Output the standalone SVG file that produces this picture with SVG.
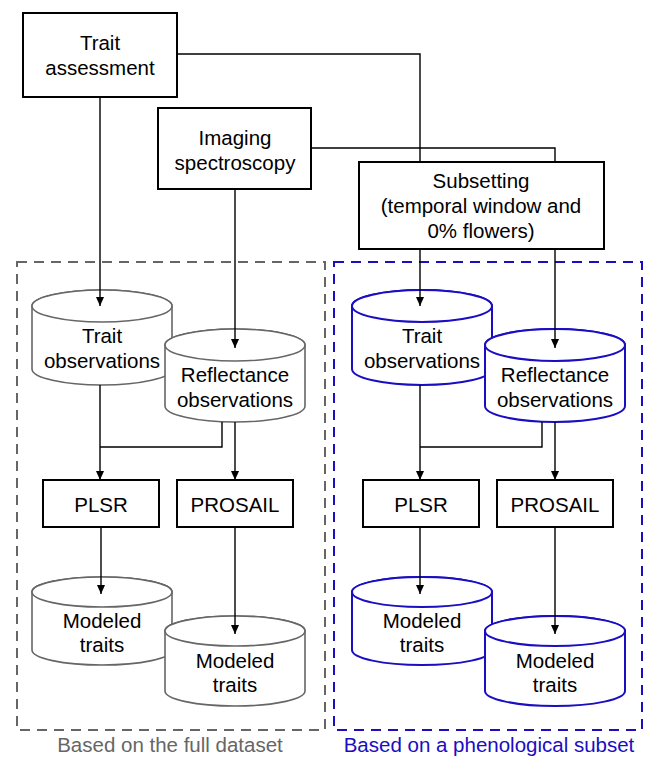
<svg xmlns="http://www.w3.org/2000/svg" width="651" height="757" viewBox="0 0 651 757">
<defs>
<marker id="arr" markerUnits="userSpaceOnUse" markerWidth="9" markerHeight="8" refX="9" refY="4" orient="auto">
<path d="M0,0 L9,4 L0,8 z" fill="#000"/>
</marker>
</defs>
<style>
text{font-family:"Liberation Sans",Arial,sans-serif;font-size:20.5px;text-anchor:middle;fill:#000}
.box{fill:#fff;stroke:#000;stroke-width:2}
.cg{fill:#fff;stroke:#666;stroke-width:1.6}
.cb{fill:#fff;stroke:#1a0dc2;stroke-width:2}
.con{fill:none;stroke:#000;stroke-width:1.4}
.arr{marker-end:url(#arr)}
.frame{fill:none;stroke-width:2;stroke-dasharray:10,7}
</style>
<rect width="651" height="757" fill="#fff"/>

<g id="frame-full">
<rect class="frame" x="17" y="262" width="308" height="468" stroke="#666"/>
<text x="170" y="752" style="fill:#666">Based on the full dataset</text>
</g>
<g id="frame-subset">
<rect class="frame" x="334" y="262" width="308" height="468" stroke="#1a0dc2"/>
<text x="489" y="752" style="fill:#1a0dc2">Based on a phenological subset</text>
</g>

<g id="trait-assessment">
<rect class="box" x="23" y="13" width="154" height="84"/>
<text x="100" y="50">Trait</text>
<text x="100" y="75">assessment</text>
</g>
<g id="imaging-spectroscopy">
<rect class="box" x="158" y="108" width="153" height="81"/>
<text x="235" y="145">Imaging</text>
<text x="235" y="170">spectroscopy</text>
</g>
<g id="subsetting">
<rect class="box" x="359" y="162" width="245" height="87"/>
<text x="481" y="188">Subsetting</text>
<text x="481" y="213">(temporal window and</text>
<text x="481" y="238">0% flowers)</text>
</g>

<g id="trait-obs-full">
<path class="cg" d="M32,306 L32,369 A70,16 0 0 0 172,369 L172,306 A70,16 0 0 0 32,306 Z"/>
<ellipse class="cg" cx="102" cy="306" rx="70" ry="16"/>
<text x="102" y="343">Trait</text>
<text x="102" y="368">observations</text>
</g>
<g id="refl-obs-full">
<path class="cg" d="M165,345 L165,406 A70,16 0 0 0 305,406 L305,345 A70,16 0 0 0 165,345 Z"/>
<ellipse class="cg" cx="235" cy="345" rx="70" ry="16"/>
<text x="235" y="382">Reflectance</text>
<text x="235" y="407">observations</text>
</g>
<g id="plsr-full">
<rect class="box" x="43" y="480" width="116" height="47"/>
<text x="101" y="512">PLSR</text>
</g>
<g id="prosail-full">
<rect class="box" x="177" y="480" width="116" height="47"/>
<text x="235" y="512">PROSAIL</text>
</g>
<g id="modeled-plsr-full">
<path class="cg" d="M32,592 L32,650 A70,15 0 0 0 172,650 L172,592 A70,15 0 0 0 32,592 Z"/>
<ellipse class="cg" cx="102" cy="592" rx="70" ry="15"/>
<text x="102" y="628">Modeled</text>
<text x="102" y="652">traits</text>
</g>
<g id="modeled-prosail-full">
<path class="cg" d="M165,631 L165,691 A70,15 0 0 0 305,691 L305,631 A70,15 0 0 0 165,631 Z"/>
<ellipse class="cg" cx="235" cy="631" rx="70" ry="15"/>
<text x="235" y="668">Modeled</text>
<text x="235" y="692">traits</text>
</g>

<g id="trait-obs-subset">
<path class="cb" d="M352,306 L352,369 A70,16 0 0 0 492,369 L492,306 A70,16 0 0 0 352,306 Z"/>
<ellipse class="cb" cx="422" cy="306" rx="70" ry="16"/>
<text x="422" y="343">Trait</text>
<text x="422" y="368">observations</text>
</g>
<g id="refl-obs-subset">
<path class="cb" d="M485,345 L485,406 A70,16 0 0 0 625,406 L625,345 A70,16 0 0 0 485,345 Z"/>
<ellipse class="cb" cx="555" cy="345" rx="70" ry="16"/>
<text x="555" y="382">Reflectance</text>
<text x="555" y="407">observations</text>
</g>
<g id="plsr-subset">
<rect class="box" x="363" y="480" width="116" height="47"/>
<text x="421" y="512">PLSR</text>
</g>
<g id="prosail-subset">
<rect class="box" x="497" y="480" width="116" height="47"/>
<text x="555" y="512">PROSAIL</text>
</g>
<g id="modeled-plsr-subset">
<path class="cb" d="M352,592 L352,650 A70,15 0 0 0 492,650 L492,592 A70,15 0 0 0 352,592 Z"/>
<ellipse class="cb" cx="422" cy="592" rx="70" ry="15"/>
<text x="422" y="628">Modeled</text>
<text x="422" y="652">traits</text>
</g>
<g id="modeled-prosail-subset">
<path class="cb" d="M485,631 L485,691 A70,15 0 0 0 625,691 L625,631 A70,15 0 0 0 485,631 Z"/>
<ellipse class="cb" cx="555" cy="631" rx="70" ry="15"/>
<text x="555" y="668">Modeled</text>
<text x="555" y="692">traits</text>
</g>

<g id="connectors">
<path class="con" d="M177,54 H420 V162"/>
<path class="con" d="M311,148 H555 V162"/>
<path class="con arr" d="M100,97 V306"/>
<path class="con arr" d="M235,189 V348"/>
<path class="con arr" d="M420,249 V306"/>
<path class="con arr" d="M555,249 V348"/>
<path class="con arr" d="M100,385 V480"/>
<path class="con" d="M222,422 V447 H100"/>
<path class="con arr" d="M235,422 V480"/>
<path class="con arr" d="M101,527 V594"/>
<path class="con arr" d="M235,527 V634"/>
<path class="con arr" d="M420,385 V480"/>
<path class="con" d="M542,422 V447 H420"/>
<path class="con arr" d="M555,422 V480"/>
<path class="con arr" d="M420,527 V594"/>
<path class="con arr" d="M555,527 V634"/>
</g>
</svg>
